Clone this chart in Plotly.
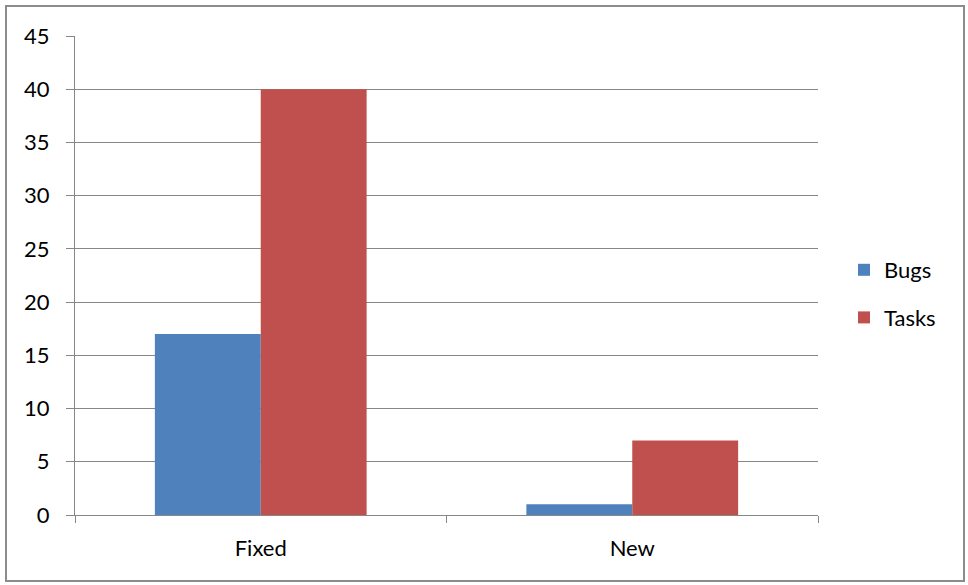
import plotly.graph_objects as go

categories = ["Fixed", "New"]
bugs = [17, 1]
tasks = [40, 7]
series_names = ["Bugs", "Tasks"]
colors = ["#4F81BD", "#C0504D"]
y_ticks = [0, 5, 10, 15, 20, 25, 30, 35, 40, 45]

W, H = 968, 585
L, R, T, B = 75, 818, 36, 515

fig = go.Figure()
for name, vals, col in zip(series_names, [bugs, tasks], colors):
    fig.add_trace(go.Bar(x=categories, y=vals, name=name, marker=dict(color=col, line=dict(width=0)),
                         legendgroup=name))

grid = "#878787"
font = dict(family="Lato, Open Sans, sans-serif", size=22, color="#000000")

def px2paper_x(px):
    return (px - L) / (R - L)

def px2paper_y(py):
    return (B - py) / (B - T)

fig.update_layout(
    width=W, height=H,
    margin=dict(l=L, r=W - R, t=T, b=H - B),
    paper_bgcolor="white", plot_bgcolor="white",
    font=font,
    barmode="group", bargap=0.43, bargroupgap=0,
    showlegend=True,
    legend=dict(x=px2paper_x(844), y=px2paper_y(249), xanchor="left", yanchor="top",
                traceorder="grouped", tracegroupgap=16, font=font,
                itemwidth=30, bgcolor="rgba(0,0,0,0)"),
    xaxis=dict(type="category", showgrid=False, showline=True, linecolor=grid, linewidth=1,
               ticks="outside", tickson="boundaries", ticklen=7, tickcolor=grid,
               ticklabelstandoff=14, tickfont=font),
    yaxis=dict(range=[0, 45], tickvals=y_ticks, showgrid=True, gridcolor=grid, gridwidth=1,
               showline=True, linecolor=grid, linewidth=1, zeroline=False,
               ticks="outside", ticklen=8, tickcolor=grid, ticklabelstandoff=12, tickfont=font),
    shapes=[dict(type="rect", xref="paper", yref="paper",
                 x0=px2paper_x(6), x1=px2paper_x(964), y0=px2paper_y(6), y1=px2paper_y(581),
                 line=dict(color="#8c8c8c", width=2), fillcolor="rgba(0,0,0,0)", layer="below")],
)

fig.write_html("out.html")
